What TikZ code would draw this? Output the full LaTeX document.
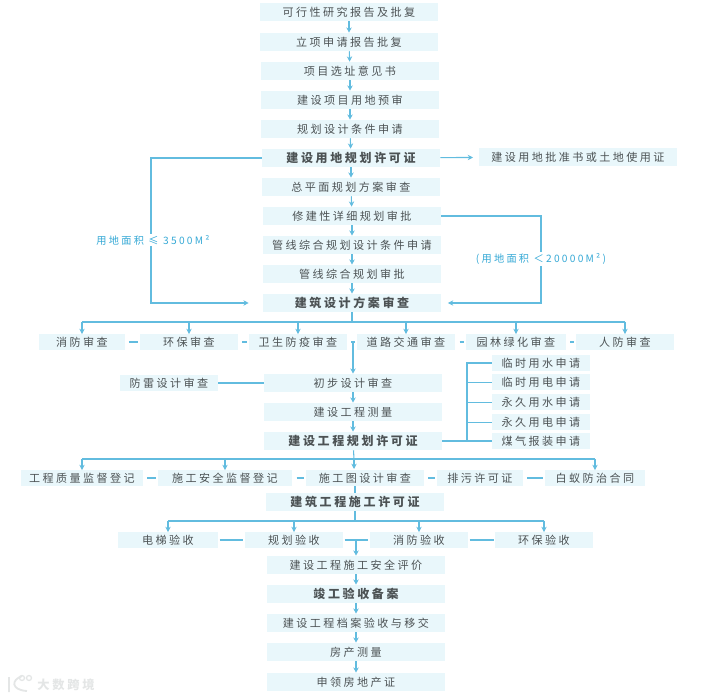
\documentclass[tikz,border=0pt]{standalone}
\usepackage{xcolor}
\usepackage{fontspec}
\setmainfont{Noto Sans CJK SC}[LetterSpace=22]
\usetikzlibrary{arrows.meta, positioning}

\definecolor{boxfill}{HTML}{E9F7FB}
\definecolor{linecyan}{HTML}{62BCDF}
\definecolor{labelcyan}{HTML}{35A9D6}
\definecolor{textgray}{HTML}{4C5254}
\definecolor{markgray}{HTML}{E4E6E6}

\tikzset{
  stepbox/.style={fill=boxfill, text=textgray, inner sep=0pt, minimum width=133.5pt, minimum height=13.5pt, font=\fontsize{8.3}{10}\selectfont},
  keybox/.style={stepbox, font=\fontsize{9}{10}\selectfont\bfseries},
  rowbox/.style={stepbox, minimum height=11.5pt},
  flowline/.style={draw=linecyan, line width=0.8pt},
  flowarrow/.style={flowline, -{Stealth[length=4pt, width=4pt]}},
  looplabel/.style={fill=white, text=labelcyan, inner sep=1pt, font=\fontsize{7.65}{10}\selectfont}
}

\begin{document}
\begin{tikzpicture}[x=0.75pt, y=-0.75pt]
      \useasboundingbox (0,0) rectangle (711,698);

      % Main column, top
      \node[stepbox] (1) at (349,12) {可行性研究报告及批复};
      \node[stepbox] (2) at (349,42) {立项申请报告批复};
      \node[stepbox] (3) at (350,71) {项目选址意见书};
      \node[stepbox] (4) at (350,100) {建设项目用地预审};
      \node[stepbox] (5) at (350,129) {规划设计条件申请};
      \node[keybox] (6) at (351,158) {建设用地规划许可证};
      \node[stepbox] (7) at (351,187) {总平面规划方案审查};
      \node[stepbox] (8) at (352,216) {修建性详细规划审批};
      \node[stepbox] (9) at (352,245) {管线综合规划设计条件申请};
      \node[stepbox] (10) at (352,274) {管线综合规划审批};
      \node[keybox] (11) at (352,303) {建筑设计方案审查};
      \foreach \a/\b in {1/2, 2/3, 3/4, 4/5, 5/6, 6/7, 7/8, 8/9, 9/10, 10/11}
        \draw[flowarrow] (\a) -- (\b);

      % Land certificate and the two loops
      \node[stepbox, minimum width=148pt] (12) at (578,157) {建设用地批准书或土地使用证};
      \draw[flowarrow, shorten >=4.5pt] (6) -- (12);
      \coordinate (loopl) at (151,158);
      \coordinate (loopr) at (541,216);
      \draw[flowarrow, shorten >=10.5pt] (6) -- (loopl) |- (11);
      \draw[flowarrow, shorten >=5pt] (8) -- (loopr) |- (11);
      \node[looplabel] (13) at (153,240) {用地面积 ≤ 3500M²};
      \node[looplabel] (14) at (541,259) {(用地面积 ＜20000M²)};

      % Review row
      \coordinate (bus1) at (352,322);
      \node[rowbox, minimum width=64pt] (15) at (82,342) {消防审查};
      \node[rowbox, minimum width=73.5pt] (16) at (189,342) {环保审查};
      \node[rowbox, minimum width=73.5pt] (17) at (298,342) {卫生防疫审查};
      \node[rowbox, minimum width=74pt] (18) at (406,342) {道路交通审查};
      \node[rowbox, minimum width=75pt] (19) at (516,342) {园林绿化审查};
      \node[rowbox, minimum width=74pt] (20) at (625,342) {人防审查};
      \draw[flowline] (11) -- (bus1);
      \draw[flowline] (15.north |- bus1) -- (20.north |- bus1);
      \foreach \a in {15, 16, 17, 18, 19, 20}
        \draw[flowarrow] (\a.north |- bus1) -- (\a);
      \foreach \a/\b in {15/16, 16/17, 17/18, 18/19, 19/20}
        \draw[flowline, shorten <=3pt, shorten >=1pt] (\a) -- (\b);

      % Preliminary design
      \coordinate (tee1) at (353,342);
      \node[stepbox] (21) at (353,383) {初步设计审查};
      \node[stepbox] (22) at (353,412) {建设工程测量};
      \node[keybox] (23) at (353,441) {建设工程规划许可证};
      \node[rowbox, minimum width=73.5pt] (24) at (169,383) {防雷设计审查};
      \draw[flowarrow] (tee1) -- (21);
      \draw[flowarrow] (21) -- (22);
      \draw[flowarrow] (22) -- (23);
      \draw[flowline] (24) -- (21);

      % Temporary supply list
      \node[rowbox, minimum width=73.5pt] (25) at (541,363) {临时用水申请};
      \node[rowbox, minimum width=73.5pt] (26) at (541,382) {临时用电申请};
      \node[rowbox, minimum width=73.5pt] (27) at (541,402) {永久用水申请};
      \node[rowbox, minimum width=73.5pt] (28) at (541,422) {永久用电申请};
      \node[rowbox, minimum width=73.5pt] (29) at (541,441) {煤气报装申请};
      \coordinate (rail) at (467,441);
      \draw[flowline] (23) -- (29);
      \draw[flowline] (rail) |- (25);
      \foreach \a in {26, 27, 28}
        \draw[flowline, line width=0.6pt] (rail |- \a) -- (\a);

      % Permit row
      \coordinate (bus2) at (354,459);
      \node[rowbox, minimum width=91.5pt] (30) at (82,478) {工程质量监督登记};
      \node[rowbox, minimum width=101pt] (31) at (225,478) {施工安全监督登记};
      \node[rowbox, minimum width=88.5pt] (32) at (365,478) {施工图设计审查};
      \node[rowbox, minimum width=64.5pt] (33) at (480,478) {排污许可证};
      \node[rowbox, minimum width=75.5pt] (34) at (595,478) {白蚁防治合同};
      \coordinate (bus2t) at (354 ,469);
      \draw[flowline] (23) -- (bus2);
      \draw[flowline] (30.north |- bus2) -- (34.north |- bus2);
      \draw[flowarrow] (30.north |- bus2) -- (30);
      \draw[flowarrow] (31.north |- bus2) -- (31);
      \draw[flowarrow] (bus2) -- (bus2t);
      \draw[flowarrow] (34.north |- bus2) -- (34);
      \foreach \a/\b in {30/31, 31/32, 32/33, 33/34}
        \draw[flowline, shorten <=3pt, shorten >=1pt] (\a) -- (\b);

      % Construction permit
      \node[keybox] (35) at (355,502) {建筑工程施工许可证};
      \coordinate (stem) at (355,486);
      \draw[flowline] (stem) -- (35);

      % Acceptance row
      \coordinate (bus3) at (355,521);
      \node[rowbox, minimum width=75pt] (36) at (168,540) {电梯验收};
      \node[rowbox, minimum width=73.5pt] (37) at (294,540) {规划验收};
      \node[rowbox, minimum width=73.5pt] (38) at (419,540) {消防验收};
      \node[rowbox, minimum width=73pt] (39) at (544,540) {环保验收};
      \draw[flowline] (35) -- (bus3);
      \draw[flowline] (36.north |- bus3) -- (39.north |- bus3);
      \foreach \a in {36, 37, 38, 39}
        \draw[flowarrow] (\a.north |- bus3) -- (\a);
      \foreach \a/\b in {36/37, 37/38, 38/39}
        \draw[flowline, shorten <=1pt, shorten >=1pt] (\a) -- (\b);

      % Main column, bottom
      \coordinate (tee2) at (356,540);
      \node[stepbox] (40) at (356,565) {建设工程施工安全评价};
      \node[keybox] (41) at (356,594) {竣工验收备案};
      \node[stepbox] (42) at (356,623) {建设工程档案验收与移交};
      \node[stepbox] (43) at (356,652) {房产测量};
      \node[stepbox] (44) at (356,682) {申领房地产证};
      \draw[flowarrow] (tee2) -- (40);
      \foreach \a/\b in {40/41, 41/42, 42/43, 43/44}
        \draw[flowarrow] (\a) -- (\b);

      % Watermark
      \draw[markgray, line width=1.4pt] (9,677) -- (9,692) (22,676) .. controls (11,680) and (11,690) .. (27,691);
      \draw[markgray, line width=1pt] (22,678) circle (2.5) (29,678) circle (2.5);
      \node[text=markgray, inner sep=0pt, font=\fontsize{9.2}{12}\selectfont\bfseries] (45) at (66,685) {大数跨境};
    \end{tikzpicture}
\end{document}
